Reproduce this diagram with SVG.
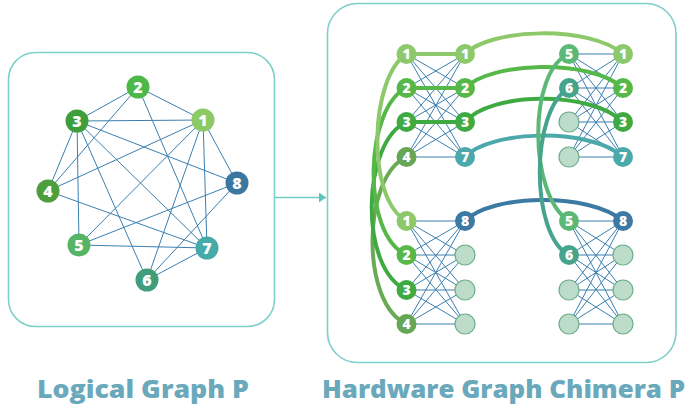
<svg xmlns="http://www.w3.org/2000/svg" width="688" height="407" viewBox="0 0 688 407">
<style>
.box{fill:#fff;stroke:#7fcfca;stroke-width:1.6}
.e{stroke:#3b7fb0;stroke-width:1;fill:none}
.ch{fill:none;stroke-width:4;stroke-linecap:round}
.lbl{font-family:"Open Sans","Liberation Sans",sans-serif;font-weight:800;fill:#ffffff;text-anchor:middle}
.big{font-size:16px}
.sm{font-size:14px}
.title{font-family:"Open Sans","Liberation Sans",sans-serif;font-weight:800;font-size:24px;fill:#6aa9bb}
.emp{fill:#bddcc9;stroke:#6bae8c;stroke-width:1.2}
</style>
<defs>
<marker id="ah" markerWidth="8" markerHeight="10" refX="7" refY="5" orient="auto" markerUnits="userSpaceOnUse">
<path d="M0,0 L7,5 L0,10 Z" fill="#5cc4bc"/>
</marker>
</defs>
<rect fill="#fff" width="688" height="407"/>
<rect class="box" x="8.5" y="52.5" width="266" height="274" rx="27"/>
<rect class="box" x="327.5" y="3.5" width="348.5" height="359" rx="30"/>

<g id="connectors">
<line x1="275" y1="197.5" x2="326" y2="197.5" stroke="#72cbc4" stroke-width="1.6" marker-end="url(#ah)"/>
<path class="e" d="M203,120L138,87M138,87L77,121M138,87L48,191M138,87L207,248M77,121L203,120M77,121L48,191M77,121L79,245M77,121L237,183M77,121L207,248M77,121L147,280M203,120L48,191M203,120L79,245M203,120L147,280M203,120L207,248M203,120L237,183M48,191L207,248M79,245L237,183M79,245L207,248M147,280L237,183M147,280L207,248"/>

<path class="e" d="M406.5,54L465,88M406.5,54L465,122M406.5,54L465,157M406.5,88L465,54M406.5,88L465,122M406.5,88L465,157M406.5,122L465,54M406.5,122L465,88M406.5,122L465,157M406.5,157L465,54M406.5,157L465,88M406.5,157L465,122M406.5,157L465,157"/>
<path class="e" d="M569,54L623,54M569,54L623,88M569,54L623,122M569,54L623,157M569,88L623,54M569,88L623,88M569,88L623,122M569,88L623,157M569,122L623,54M569,122L623,88M569,122L623,122M569,122L623,157M569,157L623,54M569,157L623,88M569,157L623,122M569,157L623,157"/>
<path class="e" d="M406.5,221L465,221M406.5,221L465,255M406.5,221L465,290M406.5,221L465,324M406.5,255L465,221M406.5,255L465,255M406.5,255L465,290M406.5,255L465,324M406.5,290L465,221M406.5,290L465,255M406.5,290L465,290M406.5,290L465,324M406.5,324L465,221M406.5,324L465,255M406.5,324L465,290M406.5,324L465,324"/>
<path class="e" d="M569,221L623,221M569,221L623,255M569,221L623,290M569,221L623,324M569,255L623,221M569,255L623,255M569,255L623,290M569,255L623,324M569,290L623,221M569,290L623,255M569,290L623,290M569,290L623,324M569,324L623,221M569,324L623,255M569,324L623,290M569,324L623,324"/>

<path class="ch" stroke="#6aaa55" d="M407,157 C362,175 360,305 407,324"/>
<path class="ch" stroke="#3faa42" d="M407,122 C362,140 358,270 407,290"/>
<path class="ch" stroke="#56b848" d="M407,88 C365,105 360,235 407,255"/>
<path class="ch" stroke="#8dc86a" d="M407,54 C370,75 365,200 407,221"/>
<path class="ch" stroke="#8dc86a" d="M406.5,54 L465,54 C490,28 590,25 623,54"/>
<path class="ch" stroke="#56b848" d="M406.5,88 L465,88 C490,62 590,58 623,88"/>
<path class="ch" stroke="#3faa42" d="M406.5,122 L465,122 C490,92 590,90 623,122"/>
<path class="ch" stroke="#4ba9ac" d="M465,157 C490,130 590,127 623,157"/>
<path class="ch" stroke="#3c7aa3" d="M465,221 C491,194 590,192 623,221"/>
<path class="ch" stroke="#5cb877" d="M569,54 C528,70 528,195 569,221"/>
<path class="ch" stroke="#47a48c" d="M569,88 C530,110 530,235 569,255"/>
</g>

<g id="L2"><circle cx="138" cy="87" r="11.5" fill="#4cb848"/><text class="lbl big" x="138" y="92.6">2</text></g>
<g id="L3"><circle cx="77" cy="121" r="11.5" fill="#3d9e3b"/><text class="lbl big" x="77" y="126.6">3</text></g>
<g id="L1"><circle cx="203" cy="120" r="11.5" fill="#8dca63"/><text class="lbl big" x="203" y="125.6">1</text></g>
<g id="L4"><circle cx="48" cy="191" r="11.5" fill="#4f9e3e"/><text class="lbl big" x="48" y="196.6">4</text></g>
<g id="L8"><circle cx="237" cy="183" r="11.5" fill="#3b78a1"/><text class="lbl big" x="237" y="188.6">8</text></g>
<g id="L5"><circle cx="79" cy="245" r="11.5" fill="#55b466"/><text class="lbl big" x="79" y="250.6">5</text></g>
<g id="L7"><circle cx="207" cy="248" r="11.5" fill="#46aaa9"/><text class="lbl big" x="207" y="253.6">7</text></g>
<g id="L6"><circle cx="147" cy="280" r="11.5" fill="#3f9d7c"/><text class="lbl big" x="147" y="285.6">6</text></g>

<g id="TL-a1"><circle cx="406.5" cy="54" r="10" fill="#8dc86a"/><text class="lbl sm" x="406.5" y="59">1</text></g>
<g id="TL-a2"><circle cx="406.5" cy="88" r="10" fill="#56b848"/><text class="lbl sm" x="406.5" y="93">2</text></g>
<g id="TL-a3"><circle cx="406.5" cy="122" r="10" fill="#3faa42"/><text class="lbl sm" x="406.5" y="127">3</text></g>
<g id="TL-a4"><circle cx="406.5" cy="157" r="10" fill="#67a654"/><text class="lbl sm" x="406.5" y="162">4</text></g>
<g id="TL-b1"><circle cx="465" cy="54" r="10" fill="#8dc86a"/><text class="lbl sm" x="465" y="59">1</text></g>
<g id="TL-b2"><circle cx="465" cy="88" r="10" fill="#56b848"/><text class="lbl sm" x="465" y="93">2</text></g>
<g id="TL-b3"><circle cx="465" cy="122" r="10" fill="#3faa42"/><text class="lbl sm" x="465" y="127">3</text></g>
<g id="TL-b4"><circle cx="465" cy="157" r="10" fill="#4ba9ac"/><text class="lbl sm" x="465" y="162">7</text></g>

<g id="TR-a1"><circle cx="569" cy="54" r="10" fill="#5cb877"/><text class="lbl sm" x="569" y="59">5</text></g>
<g id="TR-a2"><circle cx="569" cy="88" r="10" fill="#47a48c"/><text class="lbl sm" x="569" y="93">6</text></g>
<g id="TR-a3"><circle class="emp" cx="569" cy="122" r="10"/></g>
<g id="TR-a4"><circle class="emp" cx="569" cy="157" r="10"/></g>
<g id="TR-b1"><circle cx="623" cy="54" r="10" fill="#8dc86a"/><text class="lbl sm" x="623" y="59">1</text></g>
<g id="TR-b2"><circle cx="623" cy="88" r="10" fill="#56b848"/><text class="lbl sm" x="623" y="93">2</text></g>
<g id="TR-b3"><circle cx="623" cy="122" r="10" fill="#3faa42"/><text class="lbl sm" x="623" y="127">3</text></g>
<g id="TR-b4"><circle cx="623" cy="157" r="10" fill="#4ba9ac"/><text class="lbl sm" x="623" y="162">7</text></g>

<g id="BL-a1"><circle cx="406.5" cy="221" r="10" fill="#8dc86a"/><text class="lbl sm" x="406.5" y="226">1</text></g>
<g id="BL-a2"><circle cx="406.5" cy="255" r="10" fill="#56b848"/><text class="lbl sm" x="406.5" y="260">2</text></g>
<g id="BL-a3"><circle cx="406.5" cy="290" r="10" fill="#3faa42"/><text class="lbl sm" x="406.5" y="295">3</text></g>
<g id="BL-a4"><circle cx="406.5" cy="324" r="10" fill="#67a654"/><text class="lbl sm" x="406.5" y="329">4</text></g>
<g id="BL-b1"><circle cx="465" cy="221" r="10" fill="#3c7aa3"/><text class="lbl sm" x="465" y="226">8</text></g>
<g id="BL-b2"><circle class="emp" cx="465" cy="255" r="10"/></g>
<g id="BL-b3"><circle class="emp" cx="465" cy="290" r="10"/></g>
<g id="BL-b4"><circle class="emp" cx="465" cy="324" r="10"/></g>

<g id="BR-a1"><circle cx="569" cy="221" r="10" fill="#5cb877"/><text class="lbl sm" x="569" y="226">5</text></g>
<g id="BR-a2"><circle cx="569" cy="255" r="10" fill="#47a48c"/><text class="lbl sm" x="569" y="260">6</text></g>
<g id="BR-a3"><circle class="emp" cx="569" cy="290" r="10"/></g>
<g id="BR-a4"><circle class="emp" cx="569" cy="324" r="10"/></g>
<g id="BR-b1"><circle cx="623" cy="221" r="10" fill="#3c7aa3"/><text class="lbl sm" x="623" y="226">8</text></g>
<g id="BR-b2"><circle class="emp" cx="623" cy="255" r="10"/></g>
<g id="BR-b3"><circle class="emp" cx="623" cy="290" r="10"/></g>
<g id="BR-b4"><circle class="emp" cx="623" cy="324" r="10"/></g>

<text class="title" x="37" y="397.5" textLength="212" lengthAdjust="spacingAndGlyphs">Logical Graph P</text>
<text class="title" x="322" y="397.5" textLength="363" lengthAdjust="spacingAndGlyphs">Hardware Graph Chimera P</text>
</svg>
